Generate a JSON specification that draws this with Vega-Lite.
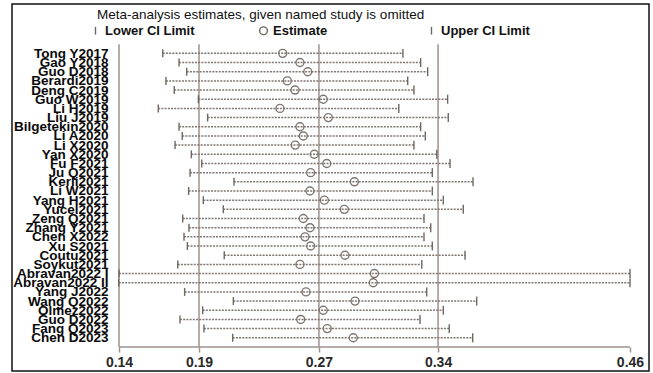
{
  "$schema": "https://vega.github.io/schema/vega-lite/v6.json",
  "width": 637,
  "height": 367,
  "autosize": {"type": "none"},
  "padding": {"left": 12, "top": 4, "right": 4, "bottom": 2},
  "background": "white",
  "config": {
    "view": {"stroke": "#111", "strokeWidth": 1.5},
    "font": "Liberation Sans"
  },
  "title": {
    "text": "Meta-analysis estimates, given named study is omitted",
    "anchor": "start",
    "frame": "group",
    "offset": -17,
    "dx": 85,
    "fontSize": 13.5,
    "fontWeight": "normal",
    "font": "Liberation Sans",
    "color": "#111"
  },
  "datasets": {
    "studies": [
      {"study": "Tong Y2017", "lower": 0.1674, "estimate": 0.2425, "upper": 0.3178},
      {"study": "Gao Y2018", "lower": 0.1776, "estimate": 0.2533, "upper": 0.3289},
      {"study": "Guo D2018", "lower": 0.1824, "estimate": 0.2582, "upper": 0.3333},
      {"study": "Berardi2019", "lower": 0.1694, "estimate": 0.2454, "upper": 0.3208},
      {"study": "Deng C2019", "lower": 0.1746, "estimate": 0.2502, "upper": 0.3247},
      {"study": "Guo W2019", "lower": 0.1897, "estimate": 0.2679, "upper": 0.3458},
      {"study": "Li H2019", "lower": 0.1646, "estimate": 0.2408, "upper": 0.3152},
      {"study": "Liu J2019", "lower": 0.1955, "estimate": 0.2711, "upper": 0.3462},
      {"study": "Bilgetekin2020", "lower": 0.1776, "estimate": 0.2533, "upper": 0.3289},
      {"study": "Li A2020", "lower": 0.1796, "estimate": 0.2554, "upper": 0.3318},
      {"study": "Li X2020", "lower": 0.1751, "estimate": 0.2504, "upper": 0.3247},
      {"study": "Yan X2020", "lower": 0.1853, "estimate": 0.2623, "upper": 0.339},
      {"study": "Fu F2021", "lower": 0.1918, "estimate": 0.2701, "upper": 0.3473},
      {"study": "Ju Q2021", "lower": 0.1845, "estimate": 0.26, "upper": 0.3362},
      {"study": "Kerli2021", "lower": 0.212, "estimate": 0.2874, "upper": 0.3617},
      {"study": "Li W2021", "lower": 0.1836, "estimate": 0.2596, "upper": 0.3362},
      {"study": "Yang H2021", "lower": 0.1928, "estimate": 0.2686, "upper": 0.3431},
      {"study": "Yucel2021", "lower": 0.2053, "estimate": 0.2811, "upper": 0.3556},
      {"study": "Zeng Q2021", "lower": 0.1799, "estimate": 0.2554, "upper": 0.331},
      {"study": "Zhang Y2021", "lower": 0.1838, "estimate": 0.2596, "upper": 0.3352},
      {"study": "Chen X2022", "lower": 0.1807, "estimate": 0.2565, "upper": 0.331},
      {"study": "Xu S2021", "lower": 0.1828, "estimate": 0.26, "upper": 0.3362},
      {"study": "Coutu2021", "lower": 0.2059, "estimate": 0.2815, "upper": 0.3567},
      {"study": "Soykut2021", "lower": 0.1768, "estimate": 0.2533, "upper": 0.3296},
      {"study": "Abravan2022 I", "lower": 0.14, "estimate": 0.2999, "upper": 0.46},
      {"study": "Abravan2022 II", "lower": 0.1398, "estimate": 0.2992, "upper": 0.46},
      {"study": "Yang J2022", "lower": 0.1811, "estimate": 0.2571, "upper": 0.3327},
      {"study": "Wang Q2022", "lower": 0.2116, "estimate": 0.2878, "upper": 0.364},
      {"study": "Olmez2022", "lower": 0.1924, "estimate": 0.2679, "upper": 0.3431},
      {"study": "Guo D2022", "lower": 0.1782, "estimate": 0.2538, "upper": 0.3285},
      {"study": "Fang Q2023", "lower": 0.1932, "estimate": 0.2704, "upper": 0.3468},
      {"study": "Chen D2023", "lower": 0.2112, "estimate": 0.2867, "upper": 0.3615}
    ],
    "refs": [
      {"value": 0.1901},
      {"value": 0.2652},
      {"value": 0.3398}
    ],
    "axisrange": [
      {"from": 0.14, "to": 0.46}
    ]
  },
  "data": {"name": "studies"},
  "layer": [
    {
      "data": {"name": "refs"},
      "mark": {"type": "rule", "color": "#9d928c", "strokeWidth": 1.5},
      "encoding": {
        "x": {
          "field": "value",
          "type": "quantitative",
          "scale": {"domain": [0.07299, 0.4719], "nice": false, "zero": false},
          "axis": {
            "values": [0.14, 0.1901, 0.2652, 0.3398, 0.46],
            "format": ".2f",
            "title": null,
            "grid": false,
            "domain": false,
            "offset": -24,
            "tickSize": 5,
            "tickWidth": 1.5,
            "tickColor": "#9d928c",
            "labelFontSize": 14,
            "labelFontWeight": "bold",
            "labelColor": "#2a2a2a",
            "labelPadding": 3,
            "labelFont": "Liberation Sans"
          }
        },
        "y": {
          "datum": "_top",
          "type": "nominal",
          "scale": {
            "type": "point",
            "domain": ["_a", "_b", "_c", "_top", "Tong Y2017", "Gao Y2018", "Guo D2018", "Berardi2019", "Deng C2019", "Guo W2019", "Li H2019", "Liu J2019", "Bilgetekin2020", "Li A2020", "Li X2020", "Yan X2020", "Fu F2021", "Ju Q2021", "Kerli2021", "Li W2021", "Yang H2021", "Yucel2021", "Zeng Q2021", "Zhang Y2021", "Chen X2022", "Xu S2021", "Coutu2021", "Soykut2021", "Abravan2022 I", "Abravan2022 II", "Yang J2022", "Wang Q2022", "Olmez2022", "Guo D2022", "Fang Q2023", "Chen D2023", "_bottom", "_d", "_e"],
            "padding": 1,
            "align": 0.69
          },
          "axis": {
            "title": null,
            "domain": false,
            "ticks": false,
            "tickSize": 0,
            "grid": false,
            "offset": -96,
            "labelPadding": 0,
            "labelOverlap": false,
            "labelLimit": 200,
            "labelFontSize": 13.5,
            "labelFontWeight": "bold",
            "labelColor": "#0a0a0a",
            "labelFont": "Liberation Sans",
            "labelExpr": "indexof(datum.value, '_') == 0 ? '' : datum.value"
          }
        },
        "y2": {"datum": "_bottom"}
      }
    },
    {
      "data": {"name": "axisrange"},
      "mark": {"type": "rule", "color": "#9d928c", "strokeWidth": 1.5},
      "encoding": {
        "x": {"field": "from", "type": "quantitative"},
        "y": {"datum": "_top", "type": "nominal"},
        "y2": {"datum": "_bottom"}
      }
    },
    {
      "data": {"name": "axisrange"},
      "mark": {"type": "rule", "color": "#9d928c", "strokeWidth": 1.5},
      "encoding": {
        "x": {"field": "from", "type": "quantitative"},
        "x2": {"field": "to"},
        "y": {"datum": "_bottom", "type": "nominal"}
      }
    },
    {
      "mark": {"type": "rule", "color": "#7f7671", "strokeWidth": 1.5, "strokeDash": [2, 1.2]},
      "encoding": {
        "x": {"field": "lower", "type": "quantitative"},
        "x2": {"field": "upper"},
        "y": {"field": "study", "type": "nominal"}
      }
    },
    {
      "mark": {"type": "point", "filled": false, "color": "#6f6660", "strokeWidth": 1.4, "size": 64, "opacity": 1},
      "encoding": {
        "x": {"field": "lower", "type": "quantitative"},
        "y": {"field": "study", "type": "nominal"},
        "shape": {
          "datum": "Lower CI Limit",
          "type": "nominal",
          "scale": {
            "domain": ["Lower CI Limit", "Estimate", "Upper CI Limit"],
            "range": ["M0,-1L0,1", "circle", "M0,-1L0,1"]
          },
          "legend": {
            "title": null,
            "orient": "none",
            "legendX": 77,
            "legendY": 20,
            "direction": "horizontal",
            "columns": 3,
            "gridAlign": "all",
            "columnPadding": 61,
            "padding": 0,
            "labelFontSize": 13,
            "labelFontWeight": "bold",
            "labelColor": "#111",
            "labelFont": "Liberation Sans",
            "labelOffset": 3,
            "symbolSize": 60,
            "symbolStrokeWidth": 1.4,
            "symbolStrokeColor": "#6f6660",
            "symbolFillColor": "transparent"
          }
        }
      }
    },
    {
      "mark": {"type": "point", "filled": false, "color": "#7f7671", "strokeWidth": 1.4, "size": 64, "opacity": 1},
      "encoding": {
        "x": {"field": "estimate", "type": "quantitative"},
        "y": {"field": "study", "type": "nominal"},
        "shape": {"datum": "Estimate", "type": "nominal"}
      }
    },
    {
      "mark": {"type": "point", "filled": false, "color": "#6f6660", "strokeWidth": 1.4, "size": 80, "opacity": 1},
      "encoding": {
        "x": {"field": "upper", "type": "quantitative"},
        "y": {"field": "study", "type": "nominal"},
        "shape": {"datum": "Upper CI Limit", "type": "nominal"}
      }
    }
  ]
}
